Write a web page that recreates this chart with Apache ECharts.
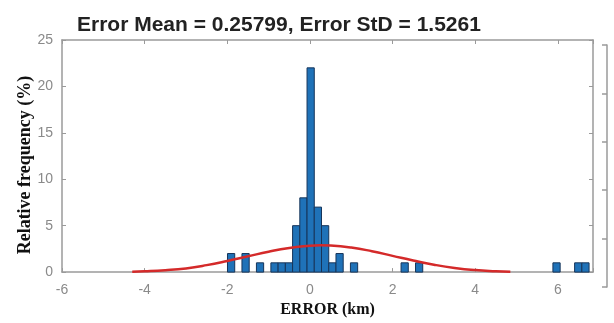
<!DOCTYPE html>
<html>
<head>
<meta charset="utf-8">
<script src="https://cdn.jsdelivr.net/npm/echarts@6/dist/echarts.min.js"></script>
<style>
	html, body { margin: 0; padding: 0; background: #fff; }
	#myChart { width: 614px; height: 323px; }
</style>
</head>
<body>
<div id="myChart"></div>
<script>
	// histogram bins (km): left edge, right edge, relative frequency (%)
	var binStart = [-1.995, -1.645, -1.295, -0.945, -0.77, -0.595, -0.42, -0.245, -0.07, 0.105, 0.28, 0.455, 0.63, 0.98, 2.205, 2.555, 5.88, 6.405, 6.58];
	var binWidth = 0.175;
	var binFreq = [2, 2, 1, 1, 1, 1, 5, 8, 22, 7, 5, 1, 2, 1, 1, 1, 1, 1, 1];

	// fitted normal curve
	var curveX = [-4.3, -4, -3.5, -3, -2.5, -2, -1.5, -1, -0.5, 0, 0.26, 0.5, 1, 1.5, 2, 2.5, 3, 3.5, 4, 4.5, 4.85];
	var curveY = [0.04, 0.08, 0.2, 0.4, 0.75, 1.2, 1.7, 2.2, 2.6, 2.85, 2.9, 2.87, 2.65, 2.25, 1.75, 1.25, 0.8, 0.45, 0.22, 0.1, 0.05];

	var titleText = 'Error Mean = 0.25799, Error StD = 1.5261';
	var xName = 'ERROR (km)';
	var yName = 'Relative frequency (%)';

	var barData = binStart.map(function(s, i) {
		return [s, s + binWidth, binFreq[i]];
	});
	var curveData = curveX.map(function(x, i) {
		return [x, curveY[i]];
	});

	var axisGray = '#9a9a9a';
	var labelGray = '#8a8a8a';

	var myChart = echarts.init(document.getElementById('myChart'));
	var option = {
		animation: false,
		title: {
			text: titleText,
			left: 72,
			top: 10,
			textStyle: {
				fontFamily: 'Liberation Sans',
				fontWeight: 'bold',
				fontSize: 21,
				color: '#222'
			}
		},
		grid: [{
			left: 62,
			right: 21,
			top: 40,
			bottom: 50
		}, {
			left: 300,
			right: 7,
			top: 45,
			bottom: 36
		}],
		xAxis: [{
			type: 'value',
			gridIndex: 0,
			min: -6,
			max: 6.85,
			interval: 2,
			name: xName,
			nameLocation: 'middle',
			nameGap: 28,
			nameTextStyle: {
				fontFamily: 'Liberation Serif',
				fontWeight: 'bold',
				fontSize: 16,
				color: '#111'
			},
			axisLine: { onZero: false, lineStyle: { color: axisGray, width: 1.5 } },
			axisTick: { inside: true, length: 4, lineStyle: { color: axisGray } },
			axisLabel: {
				margin: 11,
				fontFamily: 'Liberation Sans',
				fontSize: 14,
				color: labelGray,
				formatter: function(v) {
					return v % 2 === 0 ? String(v) : '';
				}
			},
			splitLine: { show: false }
		}, {
			type: 'value',
			gridIndex: 0,
			position: 'top',
			min: -6,
			max: 6.85,
			interval: 2,
			axisLine: { onZero: false, lineStyle: { color: axisGray, width: 1.5 } },
			axisTick: { inside: true, length: 4, lineStyle: { color: axisGray } },
			axisLabel: { show: false },
			splitLine: { show: false }
		}, {
			type: 'value',
			gridIndex: 1,
			min: 0,
			max: 1,
			show: false
		}],
		yAxis: [{
			type: 'value',
			gridIndex: 0,
			min: 0,
			max: 25,
			interval: 5,
			name: yName,
			nameLocation: 'middle',
			nameGap: 28,
			nameMoveOverlap: false,
			nameTextStyle: {
				fontFamily: 'Liberation Serif',
				fontWeight: 'bold',
				fontSize: 18,
				color: '#111',
				padding: [0, 18, 0, 0]
			},
			axisLine: { show: true, onZero: false, lineStyle: { color: axisGray, width: 1.5 } },
			axisTick: { show: true, inside: true, length: 4, lineStyle: { color: axisGray } },
			axisLabel: {
				margin: 9,
				fontFamily: 'Liberation Sans',
				fontSize: 14,
				color: labelGray
			},
			splitLine: { show: false }
		}, {
			type: 'value',
			gridIndex: 0,
			position: 'right',
			min: 0,
			max: 25,
			interval: 5,
			axisLine: { show: true, onZero: false, lineStyle: { color: axisGray, width: 1.5 } },
			axisTick: { show: true, inside: true, length: 4, lineStyle: { color: axisGray } },
			axisLabel: { show: false },
			splitLine: { show: false }
		}, {
			// cropped neighbouring axis at the right edge
			type: 'value',
			gridIndex: 1,
			position: 'right',
			min: 0,
			max: 5,
			interval: 1,
			axisLine: { show: true, onZero: false, lineStyle: { color: axisGray, width: 1.5 } },
			axisTick: { show: true, inside: true, length: 5, lineStyle: { color: axisGray, width: 1.5 } },
			axisLabel: { show: false },
			splitLine: { show: false }
		}],
		series: [{
			type: 'custom',
			xAxisIndex: 0,
			yAxisIndex: 0,
			data: barData,
			encode: { x: [0, 1], y: 2 },
			renderItem: function(params, api) {
				var p0 = api.coord([api.value(0), api.value(2)]);
				var p1 = api.coord([api.value(1), 0]);
				return {
					type: 'rect',
					shape: { x: p0[0], y: p0[1], width: p1[0] - p0[0], height: p1[1] - p0[1] },
					style: { fill: '#1f72b8', stroke: '#17355a', lineWidth: 1 }
				};
			},
			z: 2
		}, {
			type: 'line',
			xAxisIndex: 0,
			yAxisIndex: 0,
			data: curveData,
			smooth: true,
			showSymbol: false,
			lineStyle: { color: '#d42a2a', width: 2.5 },
			z: 3
		}]
	};
	myChart.setOption(option);
</script>
</body>
</html>
